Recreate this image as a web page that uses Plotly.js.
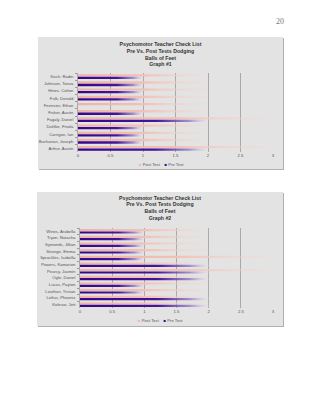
<!DOCTYPE html>
<html><head><meta charset="utf-8">
<script src="https://cdn.plot.ly/plotly-3.0.1.min.js"></script>
<style>
html,body{margin:0;padding:0;background:#fff;width:320px;height:414px;overflow:hidden;}
.box{position:absolute;box-shadow:1px 1px 0 #b0b0b0;}
#pg{position:absolute;left:276px;top:17px;font-family:"Liberation Serif",serif;font-size:8px;color:#777;}
</style></head><body>
<div id="pg"></div>
<div id="c1" class="box" style="left:38px;top:37px;width:245px;height:132px"></div>
<div id="c2" class="box" style="left:37px;top:192px;width:246px;height:134px"></div>
<script>
const pageNumber = "20";
const seriesNames = ["Post Test", "Pre Test"];
const xTickVals = [0, 0.5, 1, 1.5, 2, 2.5, 3];
const xTickText = ["0", "0.5", "1", "1.5", "2", "2.5", "3"];

const title1 = ["Psychomotor Teacher Check List", "Pre Vs. Post Tests Dodging", "Balls of Feet", "Graph #1"];
const cats1 = ["Koch, Radin", "Johnson, Tanza", "Hines, Colton", "Fulk, Donald", "Feenster, Ethan", "Fisher, Austin", "Fagaly, Daniel", "Dahlke, Finola", "Carrigan, Ian", "Buchanan, Joseph", "Arthur, Austin"];
const post1 = [2, 2, 2, 2, 2, 2, 3, 2, 2, 2, 3];
const pre1  = [1, 1, 1, 1, 0, 1, 2, 1, 1, 1, 2];

const title2 = ["Psychomotor Teacher Check List", "Pre Vs. Post Tests Dodging", "Balls of Feet", "Graph #2"];
const cats2 = ["Wines, Arabella", "Tryon, Natasha", "Symonds, Jillian", "Strange, Emma", "Sprackles, Isabella", "Powers, Kamarion", "Pearcy, Jasmin", "Ogle, Daniel", "Lucas, Payton", "Louthan, Tristan", "Loftus, Phoenix", "Kolesar, Jett"];
const post2 = [2, 2, 2, 2, 3, 2, 3, 2, 2, 2, 2, 2];
const pre2  = [1, 1, 1, 1, 1, 2, 2, 2, 1, 1, 2, 2];

document.getElementById('pg').textContent = pageNumber;

const postColor = '#f0b8ae';
const preColor = '#3a0a8e';
const bg = '#e3e3e3';
const FONT = '"Liberation Sans", Arial, sans-serif';

function makeChart(id, titleLines, cats, post, pre, m, titleY, legX, legY) {
  const data = [
    {type:'bar', orientation:'h', name:seriesNames[0], y:cats, x:post,
     marker:{color:postColor, line:{width:0}}, hoverinfo:'skip'},
    {type:'bar', orientation:'h', name:seriesNames[1], y:cats, x:pre,
     marker:{color:preColor, line:{width:0}}, hoverinfo:'skip'}
  ];
  const layout = {
    width: m.w, height: m.h,
    margin: {l:m.l, r:m.r, t:m.t, b:m.b, pad:0},
    paper_bgcolor: bg, plot_bgcolor: bg,
    barmode: 'group', bargap: 0.3, bargroupgap: 0.08,
    showlegend: false,
    font: {family: FONT, size: 4.2, color: '#555'},
    title: {text: titleLines.map(s => '<b>' + s + '</b>').join('<br>'),
            x: 0.5, xref: 'container', xanchor: 'center',
            y: titleY, yref: 'container', yanchor: 'top',
            font: {family: FONT, size: 5.2, color: '#333'}},
    xaxis: {range:[0,3], tickvals:xTickVals, ticktext:xTickText, showgrid:true,
            gridcolor:'#9a9a9a', gridwidth:0.8, zeroline:false, showline:false,
            ticks:'', tickfont:{size:4.2, color:'#555'}, fixedrange:true},
    yaxis: {type:'category', categoryorder:'array', categoryarray:cats, autorange:'reversed',
            showgrid:false, zeroline:false, showline:true, linecolor:'#9a9a9a', linewidth:0.8,
            ticks:'outside', ticklen:2, tickcolor:'#9a9a9a', tickson:'boundaries',
            ticklabelstandoff:3,
            tickfont:{size:4.2, color:'#555'}, fixedrange:true},
    annotations: [{
      xref:'paper', yref:'paper', x:legX, y:legY, xanchor:'center', yanchor:'middle', showarrow:false,
      text: '<span style="color:' + postColor + '">■</span> ' + seriesNames[0] +
            '    <span style="color:' + preColor + '">■</span> ' + seriesNames[1],
      font:{family:FONT, size:4.2, color:'#555'}
    }]
  };
  return Plotly.newPlot(id, data, layout, {staticPlot:true, displayModeBar:false}).then(gd => {
    applyGradients(gd, id);
    return gd;
  });
}

function applyGradients(gd, prefix) {
  const ns = 'http://www.w3.org/2000/svg';
  const svg = gd.querySelector('svg.main-svg');
  let defs = svg.querySelector('defs');
  if (!defs) { defs = document.createElementNS(ns, 'defs'); svg.insertBefore(defs, svg.firstChild); }
  const specs = [
    {id: prefix + 'gPost', stops: [[0, '#efb3a8', 1], [0.5, '#f2c0b6', 1], [1, '#f4d8d2', 0.15]]},
    {id: prefix + 'gPre',  stops: [[0, '#34078a', 1], [0.6, '#44149a', 1], [0.85, '#8f78c4', 0.8], [1, '#e6e0f0', 0.3]]}
  ];
  specs.forEach(s => {
    const g = document.createElementNS(ns, 'linearGradient');
    g.setAttribute('id', s.id);
    g.setAttribute('x1', '0'); g.setAttribute('x2', '1');
    g.setAttribute('y1', '0'); g.setAttribute('y2', '0');
    s.stops.forEach(st => {
      const e = document.createElementNS(ns, 'stop');
      e.setAttribute('offset', st[0]);
      e.setAttribute('stop-color', st[1]);
      e.setAttribute('stop-opacity', st[2]);
      g.appendChild(e);
    });
    defs.appendChild(g);
  });
  const traces = gd.querySelectorAll('.barlayer .trace');
  traces.forEach((t, i) => {
    t.querySelectorAll('path').forEach(p => { p.style.fill = 'url(#' + specs[i].id + ')'; });
  });
}

makeChart('c1', title1, cats1, post1, pre1,
  {w:245, h:132, l:40, r:10, t:36, b:17}, 0.931, 0.426, -0.157);
makeChart('c2', title2, cats2, post2, pre2,
  {w:246, h:134, l:43, r:10, t:36, b:18}, 0.944, 0.418, -0.159);
</script>
</body></html>
